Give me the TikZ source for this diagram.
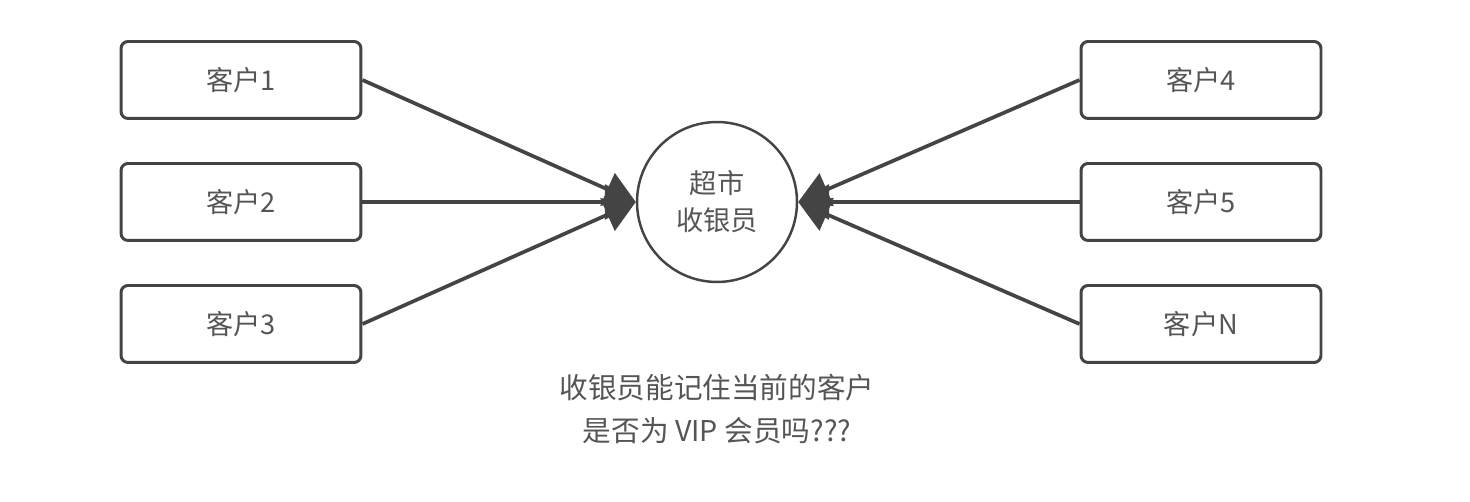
\documentclass[tikz,border=0pt]{standalone}
\usepackage{fontspec}
\newfontfamily\cjk{Noto Sans CJK SC}
\usetikzlibrary{arrows.meta}
\definecolor{xiangui}{HTML}{444444}
\definecolor{zigui}{HTML}{555555}

\begin{document}
\begin{tikzpicture}[x=0.02cm,y=-0.02cm,
		kehu/.style={draw=xiangui,line width=1.7pt,rounded corners=4pt,minimum width=4.8cm,minimum height=1.54cm,text=zigui,font=\cjk\fontsize{15.5}{19}\selectfont},
		yuan/.style={draw=xiangui,circle,line width=1.4pt,minimum size=3.2cm,inner sep=0pt,text=zigui,align=center,font=\cjk\fontsize{15.5}{21}\selectfont},
		jiantou/.style={draw=xiangui,line width=2.1pt,-{Triangle[length=0.62cm,width=0.7cm]}}]
	\useasboundingbox (0,0) rectangle (1470,502);
	% clients on the left
	\node[kehu] (k1) at (241,80) {客户1};
	\node[kehu] (k2) at (241,202) {客户2};
	\node[kehu] (k3) at (241,324) {客户3};
	% clients on the right
	\node[kehu] (k4) at (1201,80) {客户4};
	\node[kehu] (k5) at (1201,202) {客户5};
	\node[kehu] (kn) at (1201,324) {客户N};
	% cashier
	\node[yuan] (shouyin) at (717,202) {超市\\收银员};
	\draw[jiantou] (k1.east) -- (shouyin.west);
	\draw[jiantou] (k2.east) -- (shouyin.west);
	\draw[jiantou] (k3.east) -- (shouyin.west);
	\draw[jiantou] (k4.west) -- (shouyin.east);
	\draw[jiantou] (k5.west) -- (shouyin.east);
	\draw[jiantou] (kn.west) -- (shouyin.east);
	\node[text=zigui,align=center,font=\cjk\fontsize{16.3}{24}\selectfont] (wenti) at (717,409) {收银员能记住当前的客户\\是否为 VIP 会员吗???};
\end{tikzpicture}
\end{document}
